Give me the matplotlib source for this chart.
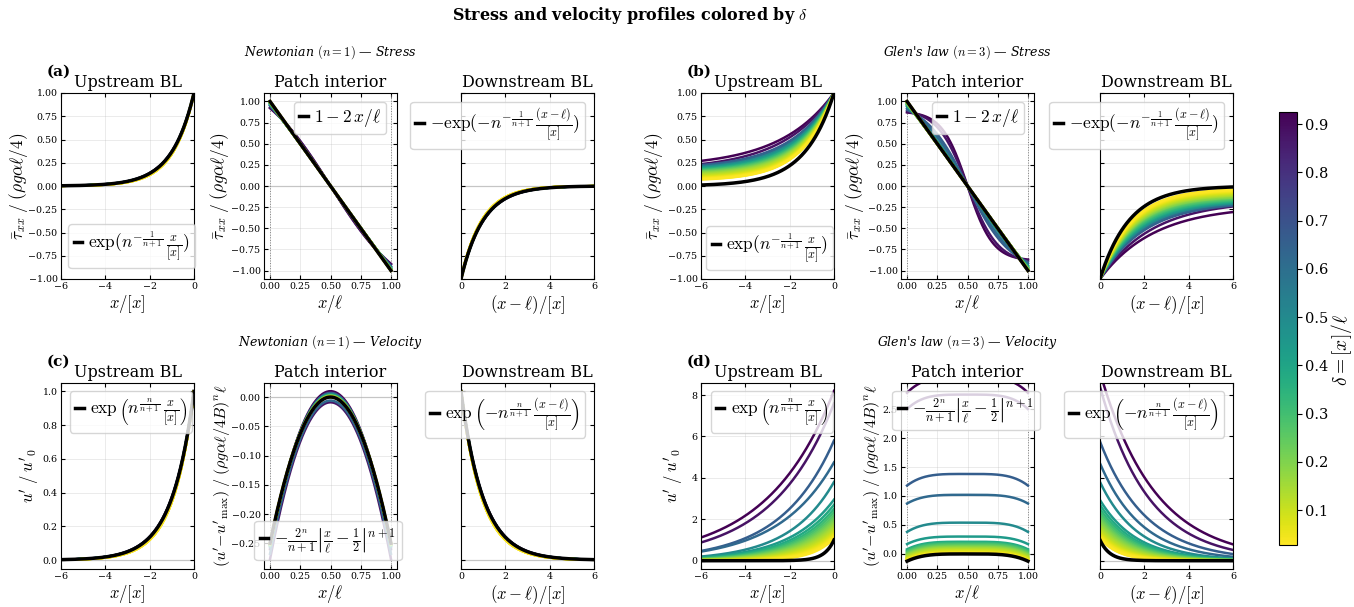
import numpy as np
import matplotlib
matplotlib.use('Agg')
import matplotlib.pyplot as plt
from matplotlib import cm, colors

plt.rcParams['font.family'] = 'serif'
plt.rcParams['font.serif'] = ['DejaVu Serif']
plt.rcParams['mathtext.fontset'] = 'cm'

# delta = [x]/l for every coloured profile
delta = [0.925, 0.88, 0.66, 0.62, 0.50, 0.44, 0.38, 0.34, 0.30, 0.27,
         0.24, 0.215, 0.195, 0.175, 0.16, 0.145, 0.13, 0.12, 0.11, 0.10,
         0.09, 0.08, 0.07, 0.062, 0.055, 0.048, 0.042, 0.037, 0.032, 0.0275]

newt_rate = [0.99, 0.99, 1.0, 1.0, 1.0, 1.01, 1.01, 1.01, 1.02, 1.02,
             1.02, 1.02, 1.03, 1.03, 1.03, 1.03, 1.04, 1.04, 1.04, 1.04,
             1.05, 1.05, 1.05, 1.05, 1.05, 1.06, 1.06, 1.06, 1.06, 1.06]
# Newtonian stress in patch: value at x=0 and width of the S-shape
newt_end = [0.92, 0.93, 0.95, 0.955, 0.965, 0.97, 0.975, 0.98, 0.98, 0.985,
            0.985, 0.99, 0.99, 0.99, 0.99, 0.995, 0.995, 0.995, 0.995, 0.995,
            1.0, 1.0, 1.0, 1.0, 1.0, 1.0, 1.0, 1.0, 1.0, 1.0]
newt_width = [0.6, 0.65, 0.9, 1.0, 1.3, 1.5, 1.8, 2.0, 2.5, 3.0,
              3.0, 3.5, 4.0, 4.0, 4.5, 5.0, 5.0, 5.0, 6.0, 6.0,
              6.0, 7.0, 7.0, 7.0, 8.0, 8.0, 8.0, 9.0, 9.0, 9.0]
# Newtonian velocity in patch: peak value
newt_peak = [0.010, -0.009, 0.007, -0.006, 0.005, 0.004, 0.0035, 0.003, 0.0028, 0.0025,
             0.0022, 0.002, 0.0018, 0.0016, 0.0014, 0.0012, 0.001, 0.0009, 0.0008, 0.0007,
             0.0006, 0.0005, 0.0004, 0.0003, 0.0003, 0.0002, 0.0002, 0.0001, 0.0001, 0.0]

# Glen's law (n=3) stress
glen_up_far = [0.27, 0.235, 0.225, 0.215, 0.205, 0.195, 0.185, 0.178, 0.171, 0.164,
               0.157, 0.15, 0.144, 0.138, 0.132, 0.126, 0.12, 0.115, 0.11, 0.105,
               0.1, 0.096, 0.092, 0.088, 0.085, 0.082, 0.079, 0.076, 0.073, 0.07]
glen_dn_far = [0.28, 0.22, 0.21, 0.2, 0.19, 0.18, 0.17, 0.16, 0.15, 0.14,
               0.13, 0.125, 0.12, 0.11, 0.105, 0.1, 0.095, 0.09, 0.085, 0.08,
               0.075, 0.07, 0.066, 0.062, 0.058, 0.054, 0.05, 0.047, 0.044, 0.04]
glen_rate = [0.41, 0.43, 0.5, 0.52, 0.55, 0.57, 0.59, 0.6, 0.62, 0.63,
             0.64, 0.65, 0.655, 0.66, 0.665, 0.67, 0.675, 0.68, 0.685, 0.69,
             0.69, 0.695, 0.7, 0.7, 0.705, 0.705, 0.71, 0.71, 0.71, 0.715]
glen_end = [0.87, 0.88, 0.9, 0.92, 0.94, 0.95, 0.96, 0.965, 0.97, 0.975,
            0.98, 0.98, 0.985, 0.985, 0.99, 0.99, 0.99, 0.995, 0.995, 0.995,
            0.995, 1.0, 1.0, 1.0, 1.0, 1.0, 1.0, 1.0, 1.0, 1.0]
glen_width = [0.21, 0.25, 0.36, 0.45, 0.65, 0.8, 1.0, 1.2, 1.5, 1.8,
              2.2, 2.6, 3.0, 3.5, 4.0, 5.0, 5.0, 6.0, 6.0, 7.0,
              7.0, 8.0, 8.0, 8.0, 9.0, 9.0, 9.0, 10.0, 10.0, 10.0]

# Glen's law (n=3) velocity
glen_vel_up0 = [8.2, 7.6, 5.8, 4.75, 3.8, 2.95, 2.7, 2.5, 2.35, 2.2,
                2.08, 1.97, 1.87, 1.78, 1.7, 1.63, 1.56, 1.5, 1.45, 1.4,
                1.35, 1.31, 1.27, 1.24, 1.21, 1.18, 1.15, 1.13, 1.11, 1.09]
glen_vel_up6 = [1.12, 0.88, 0.47, 0.44, 0.2, 0.16, 0.13, 0.11, 0.095, 0.083,
                0.072, 0.062, 0.054, 0.047, 0.041, 0.035, 0.03, 0.026, 0.022, 0.019,
                0.016, 0.013, 0.011, 0.009, 0.007, 0.006, 0.005, 0.004, 0.003, 0.002]
glen_vel_dn0 = [9.1, 8.4, 5.75, 4.7, 3.8, 2.93, 2.7, 2.5, 2.35, 2.2,
                2.08, 1.97, 1.87, 1.78, 1.7, 1.63, 1.56, 1.5, 1.45, 1.4,
                1.35, 1.31, 1.27, 1.24, 1.21, 1.18, 1.15, 1.13, 1.11, 1.09]
glen_vel_dn6 = [0.79, 0.52, 0.32, 0.19, 0.11, 0.08, 0.065, 0.055, 0.046, 0.039,
                0.033, 0.028, 0.024, 0.02, 0.017, 0.014, 0.012, 0.01, 0.008, 0.007,
                0.006, 0.005, 0.004, 0.0035, 0.003, 0.0025, 0.002, 0.0015, 0.001, 0.001]
glen_vel_mid = [3.05, 2.75, 1.38, 1.02, 0.54, 0.30, 0.21, 0.19, 0.175, 0.16,
                0.145, 0.13, 0.12, 0.11, 0.10, 0.09, 0.08, 0.072, 0.064, 0.056,
                0.049, 0.042, 0.036, 0.03, 0.025, 0.02, 0.016, 0.012, 0.008, 0.005]
glen_vel_drop = [0.27, 0.25, 0.2, 0.15, 0.16, 0.13, 0.13, 0.13, 0.13, 0.13,
                 0.13, 0.13, 0.13, 0.13, 0.13, 0.13, 0.13, 0.13, 0.13, 0.13,
                 0.125, 0.125, 0.125, 0.125, 0.125, 0.125, 0.125, 0.125, 0.125, 0.125]

W, H = 1354, 607
fig = plt.figure(figsize=(W / 100, H / 100), dpi=100)

norm = colors.Normalize(vmin=0.0275, vmax=0.925)
cmap = plt.get_cmap('viridis_r')

xu = np.linspace(-6, 0, 300)
xd = np.linspace(0, 6, 300)
xp = np.linspace(0, 1, 300)


def add_ax(left, top, w=133, h=186):
    return fig.add_axes([left / W, 1 - (top + h) / H, w / W, h / H])


def style(ax, title):
    ax.tick_params(direction='in', top=True, right=True, labelsize=6.8, length=3, pad=2.5)
    ax.grid(True, alpha=0.35, lw=0.5)
    ax.axhline(0, color='0.8', lw=0.9, zorder=0)
    ax.set_title(title, fontsize=11.5, pad=4)


def legend(ax, loc, px, py):
    # legend corner given in figure pixels
    ax.legend(loc=loc, bbox_to_anchor=(px / W, 1 - py / H), bbox_transform=fig.transFigure,
              fontsize=12.5, handlelength=0.5, handletextpad=0.35,
              borderpad=0.3, borderaxespad=0)


def group(lefts, top, n, kind, lab, leg, ylx):
    axu = add_ax(lefts[0], top)
    axp = add_ax(lefts[1], top)
    axd = add_ax(lefts[2], top)
    style(axu, 'Upstream BL')
    style(axp, 'Patch interior')
    style(axd, 'Downstream BL')
    axu.set_xlim(-6, 0)
    axd.set_xlim(0, 6)
    axu.set_xticks([-6, -4, -2, 0])
    axd.set_xticks([0, 2, 4, 6])
    axp.set_xlim(-0.05, 1.05)
    axp.set_xticks([0, 0.25, 0.5, 0.75, 1.0])
    axp.axvline(0, color='0.5', ls=':', lw=0.7)
    axp.axvline(1, color='0.5', ls=':', lw=0.7)
    axu.set_xlabel(r'$x/[x]$', fontsize=12, labelpad=1)
    axp.set_xlabel(r'$x/\ell$', fontsize=12, labelpad=1)
    axd.set_xlabel(r'$(x-\ell)/[x]$', fontsize=12, labelpad=1)
    axd.tick_params(labelleft=False)

    for i, d in enumerate(delta):
        c = cmap(norm(d))
        if kind == 'stress' and n == 1:
            k = newt_rate[i]
            axu.plot(xu, np.exp(k * xu), color=c, lw=1.8)
            axd.plot(xd, -np.exp(-k * xd), color=c, lw=1.8)
            s, w = newt_end[i], newt_width[i]
            axp.plot(xp, s * np.tanh((0.5 - xp) / w) / np.tanh(0.5 / w), color=c, lw=1.8)
        elif kind == 'stress':
            k = glen_rate[i]
            cu = (glen_up_far[i] - np.exp(-6 * k)) / (1 - np.exp(-6 * k))
            cd = (glen_dn_far[i] - np.exp(-6 * k)) / (1 - np.exp(-6 * k))
            axu.plot(xu, cu + (1 - cu) * np.exp(k * xu), color=c, lw=1.8)
            axd.plot(xd, -(cd + (1 - cd) * np.exp(-k * xd)), color=c, lw=1.8)
            s, w = glen_end[i], glen_width[i]
            axp.plot(xp, s * np.tanh((0.5 - xp) / w) / np.tanh(0.5 / w), color=c, lw=1.8)
        elif n == 1:
            k = newt_rate[i]
            axu.plot(xu, np.exp(k * xu), color=c, lw=1.8)
            axd.plot(xd, np.exp(-k * xd), color=c, lw=1.8)
            axp.plot(xp, newt_peak[i] - (xp - 0.5) ** 2 * (1 + abs(newt_peak[i]) * 8),
                     color=c, lw=1.8)
        else:
            ku = np.log(glen_vel_up0[i] / glen_vel_up6[i]) / 6
            kd = np.log(glen_vel_dn0[i] / glen_vel_dn6[i]) / 6
            axu.plot(xu, glen_vel_up0[i] * np.exp(ku * xu), color=c, lw=1.8)
            axd.plot(xd, glen_vel_dn0[i] * np.exp(-kd * xd), color=c, lw=1.8)
            axp.plot(xp, glen_vel_mid[i] - glen_vel_drop[i] * 16 * np.abs(xp - 0.5) ** 4,
                     color=c, lw=1.8)

    # theoretical profiles (the formulas written in the legends)
    if kind == 'stress':
        a = n ** (-1 / (n + 1))
        axu.plot(xu, np.exp(a * xu), color='k', lw=2.5,
                 label=r'$\exp(n^{-\frac{1}{n+1}}\,\frac{x}{[x]})$')
        axp.plot(xp, 1 - 2 * xp, color='k', lw=2.5, label=r'$1-2\,x/\ell$')
        axd.plot(xd, -np.exp(-a * xd), color='k', lw=2.5,
                 label=r'$-\exp(-n^{-\frac{1}{n+1}}\,\frac{(x-\ell)}{[x]})$')
        for ax in (axu, axd):
            ax.set_ylim(-1, 1)
            ax.set_yticks(np.arange(-1, 1.01, 0.25))
        axp.set_ylim(-1.1, 1.1)
        axp.set_yticks(np.arange(-1, 1.01, 0.25))
        ylab = r'$\bar{\tau}_{xx}\;/\;(\rho g\alpha\ell/4)$'
        axu.set_ylabel(ylab, fontsize=12.5)
        axp.set_ylabel(ylab, fontsize=12.5)
        legend(axu, 'lower right', *leg[0])
    else:
        a = n ** (n / (n + 1))
        axu.plot(xu, np.exp(a * xu), color='k', lw=2.5,
                 label=r'$\exp\left(n^{\frac{n}{n+1}}\,\frac{x}{[x]}\right)$')
        axp.plot(xp, -(2 ** n / (n + 1)) * np.abs(xp - 0.5) ** (n + 1), color='k', lw=2.5,
                 label=r'$-\frac{2^n}{n+1}\left|\frac{x}{\ell}-\frac{1}{2}\right|^{n+1}$')
        axd.plot(xd, np.exp(-a * xd), color='k', lw=2.5,
                 label=r'$\exp\left(-n^{\frac{n}{n+1}}\,\frac{(x-\ell)}{[x]}\right)$')
        if n == 1:
            for ax in (axu, axd):
                ax.set_ylim(-0.053, 1.05)
                ax.set_yticks([0, 0.2, 0.4, 0.6, 0.8, 1.0])
            axp.set_ylim(-0.294, 0.024)
            axp.set_yticks([0, -0.05, -0.1, -0.15, -0.2, -0.25])
            legend(axu, 'upper left', *leg[0])
        else:
            for ax in (axu, axd):
                ax.set_ylim(-0.4, 8.58)
                ax.set_yticks([0, 2, 4, 6, 8])
            axp.set_ylim(-0.26, 2.95)
            axp.set_yticks([0, 0.5, 1.0, 1.5, 2.0, 2.5])
            legend(axu, 'upper right', *leg[0])
        axu.set_ylabel(r"$u'\;/\;u'_0$", fontsize=12)
        axp.set_ylabel(r"$(u'\!-\!u'_{\max})\;/\;(\rho g\alpha\ell/4B)^n\ell$", fontsize=11.5)
    ploc = leg[1][2] if len(leg[1]) == 3 else 'upper right'
    legend(axp, ploc, leg[1][0], leg[1][1])
    legend(axd, 'upper right', *leg[2])
    axu.yaxis.set_label_coords(ylx[0], 0.5)
    axp.yaxis.set_label_coords(ylx[1], 0.5)

    # group title above the patch panel and panel letter
    cx = (lefts[1] + 66.5) / W
    name = 'Newtonian $(n=1)$' if n == 1 else "Glen's law $(n=3)$"
    what = 'Stress' if kind == 'stress' else 'Velocity'
    fig.text(cx, 1 - (top - 41) / H, name + ' — ' + what, ha='center', va='center',
             fontsize=9, style='italic')
    fig.text((lefts[0] - 14) / W, 1 - (top - 21) / H, lab, ha='left', va='center',
             fontsize=11, fontweight='bold')


group([61, 264, 461], 93, 1, 'stress', '(a)',
      [(195, 268), (386, 102), (585, 102)], (-0.235, -0.25))
group([701, 901, 1100], 93, 3, 'stress', '(b)',
      [(833, 270), (1024, 102), (1224, 102)], (-0.27, -0.26))
group([61, 264, 461], 383, 1, 'velocity', '(c)',
      [(70, 391), (328, 560, 'lower center'), (585, 391)], (-0.14, -0.235))
group([701, 901, 1100], 383, 3, 'velocity', '(d)',
      [(833, 391), (966, 391, 'upper center'), (1224, 391)], (-0.11, -0.135))

fig.text(630 / W, 1 - 15 / H, r'Stress and velocity profiles colored by $\delta$',
         ha='center', va='center', fontsize=11.5, fontweight='bold')

cax = fig.add_axes([1279 / W, 1 - 545 / H, 18 / W, 433 / H])
sm = cm.ScalarMappable(norm=norm, cmap=cmap)
cb = fig.colorbar(sm, cax=cax)
cb.set_ticks([0.1, 0.2, 0.3, 0.4, 0.5, 0.6, 0.7, 0.8, 0.9])
cb.ax.tick_params(labelsize=10.5, pad=2)
fig.text(1342 / W, 1 - 350 / H, r'$\delta=[x]/\ell$', rotation=90, ha='center',
         va='center', fontsize=14)

fig.savefig('out.png', dpi=100)
